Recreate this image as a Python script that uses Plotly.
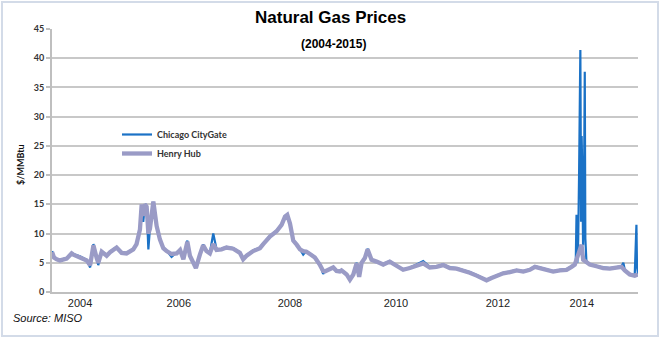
import plotly.graph_objects as go

# ---------------- data ----------------
hh_dates = [
    "2004-01-02", "2004-01-15", "2004-02-03", "2004-02-26", "2004-04-13", "2004-05-18", "2004-05-30",
    "2004-07-15", "2004-09-01", "2004-09-25", "2004-10-18", "2004-11-10", "2004-11-21", "2004-12-15",
    "2005-01-19", "2005-02-12", "2005-03-30", "2005-05-04", "2005-06-08", "2005-07-25", "2005-08-17",
    "2005-09-10", "2005-09-22", "2005-10-03", "2005-10-15", "2005-10-27", "2005-11-08", "2005-11-19",
    "2005-12-13", "2006-01-05", "2006-01-28", "2006-02-21", "2006-03-16", "2006-04-20", "2006-05-26",
    "2006-06-19", "2006-07-12", "2006-08-09", "2006-08-27", "2006-09-20", "2006-10-08", "2006-11-05",
    "2006-11-28", "2006-12-21", "2007-01-14", "2007-02-07", "2007-03-02", "2007-04-06", "2007-05-11",
    "2007-06-27", "2007-08-13", "2007-09-05", "2007-09-29", "2007-11-14", "2008-01-01", "2008-01-24",
    "2008-03-11", "2008-04-27", "2008-06-01", "2008-06-25", "2008-07-11", "2008-07-30", "2008-08-22",
    "2008-09-15", "2008-10-08", "2008-10-31", "2008-11-23", "2008-12-17", "2009-01-21", "2009-02-26",
    "2009-03-20", "2009-04-01", "2009-05-06", "2009-05-30", "2009-06-22", "2009-07-15", "2009-07-27",
    "2009-09-01", "2009-09-24", "2009-10-18", "2009-11-10", "2009-11-28", "2009-12-15", "2010-01-07",
    "2010-01-26", "2010-02-23", "2010-03-30", "2010-05-16", "2010-07-01", "2010-08-17", "2010-10-03",
    "2010-11-19", "2011-01-05", "2011-02-21", "2011-04-08", "2011-05-25", "2011-07-11", "2011-08-27",
    "2011-10-13", "2011-11-28", "2012-01-14", "2012-03-02", "2012-04-17", "2012-05-11", "2012-06-15",
    "2012-07-20", "2012-09-05", "2012-10-22", "2012-12-08", "2013-01-24", "2013-03-11", "2013-04-16",
    "2013-05-21", "2013-07-06", "2013-08-22", "2013-10-08", "2013-11-24", "2013-12-29", "2014-01-21",
    "2014-02-14", "2014-03-09", "2014-03-21", "2014-04-13", "2014-05-06", "2014-06-22", "2014-08-08",
    "2014-09-24", "2014-11-10", "2014-12-15", "2015-01-07", "2015-02-11", "2015-03-18", "2015-04-10",
]
hh_vals = [
    6.8, 5.9, 5.6, 5.4, 5.7, 6.6, 6.4,
    6.0, 5.4, 4.6, 8.0, 5.8, 5.0, 6.9,
    6.2, 6.8, 7.6, 6.7, 6.6, 7.3, 8.2,
    10.7, 15.0, 13.0, 15.0, 14.6, 10.0, 10.8,
    15.5, 11.3, 9.0, 7.5, 7.0, 6.5, 6.6,
    7.2, 5.6, 8.6, 6.2, 5.0, 4.1, 6.4,
    8.0, 7.0, 6.6, 8.2, 7.2, 7.3, 7.6,
    7.4, 6.7, 5.6, 6.2, 7.0, 7.5, 8.2,
    9.5, 10.4, 11.5, 12.9, 13.2, 11.7, 8.8,
    8.1, 7.3, 7.0, 6.9, 6.5, 5.9, 4.6,
    3.6, 3.5, 3.8, 4.2, 3.6, 3.5, 3.7,
    3.0, 2.1, 3.0, 4.9, 2.6, 5.0, 5.8,
    7.3, 5.5, 5.2, 4.7, 5.2, 4.4, 3.8,
    4.1, 4.6, 4.9, 4.2, 4.3, 4.6, 4.1,
    4.0, 3.7, 3.3, 2.8, 2.3, 2.0, 2.4,
    2.8, 3.2, 3.4, 3.7, 3.5, 3.8, 4.3,
    4.1, 3.8, 3.5, 3.7, 3.8, 4.3, 4.7,
    6.4, 8.1, 5.5, 5.0, 4.7, 4.4, 4.1,
    4.0, 4.1, 4.3, 3.7, 3.0, 2.8, 3.0,
]

chi_dates = [
    "2004-01-02", "2004-01-15", "2004-02-03", "2004-02-26", "2004-04-13", "2004-05-18", "2004-05-30",
    "2004-07-15", "2004-09-01", "2004-09-25", "2004-10-18", "2004-11-10", "2004-11-21", "2004-12-15",
    "2005-01-19", "2005-02-12", "2005-03-30", "2005-05-04", "2005-06-08", "2005-07-25", "2005-08-17",
    "2005-09-10", "2005-09-22", "2005-10-03", "2005-10-15", "2005-10-27", "2005-11-08", "2005-11-19",
    "2005-12-13", "2006-01-05", "2006-01-28", "2006-02-21", "2006-03-16", "2006-04-20", "2006-05-26",
    "2006-06-19", "2006-07-12", "2006-08-09", "2006-08-27", "2006-09-20", "2006-10-08", "2006-11-05",
    "2006-11-28", "2006-12-21", "2007-01-14", "2007-02-07", "2007-03-02", "2007-04-06", "2007-05-11",
    "2007-06-27", "2007-08-13", "2007-09-05", "2007-09-29", "2007-11-14", "2008-01-01", "2008-01-24",
    "2008-03-11", "2008-04-27", "2008-06-01", "2008-06-25", "2008-07-11", "2008-07-30", "2008-08-22",
    "2008-09-15", "2008-10-08", "2008-10-31", "2008-11-23", "2008-12-17", "2009-01-21", "2009-02-26",
    "2009-03-20", "2009-04-01", "2009-05-06", "2009-05-30", "2009-06-22", "2009-07-15", "2009-07-27",
    "2009-09-01", "2009-09-24", "2009-10-18", "2009-11-10", "2009-11-28", "2009-12-15", "2010-01-07",
    "2010-01-26", "2010-02-23", "2010-03-30", "2010-05-16", "2010-07-01", "2010-08-17", "2010-10-03",
    "2010-11-19", "2011-01-05", "2011-02-21", "2011-04-08", "2011-05-25", "2011-07-11", "2011-08-27",
    "2011-10-13", "2011-11-28", "2012-01-14", "2012-03-02", "2012-04-17", "2012-05-11", "2012-06-15",
    "2012-07-20", "2012-09-05", "2012-10-22", "2012-12-08", "2013-01-24", "2013-03-11", "2013-04-16",
    "2013-05-21", "2013-07-06", "2013-08-22", "2013-10-08", "2013-11-24", "2013-12-29", "2014-01-21",
    "2014-01-28", "2014-02-02", "2014-02-08", "2014-02-14", "2014-02-20", "2014-03-01", "2014-03-06",
    "2014-03-10", "2014-03-15", "2014-03-20", "2014-03-26", "2014-04-01", "2014-04-05", "2014-04-12",
    "2014-04-20", "2014-05-06", "2014-06-22", "2014-08-08", "2014-09-24", "2014-11-10", "2014-12-15",
    "2014-12-28", "2015-01-07", "2015-02-11", "2015-03-18", "2015-03-30", "2015-04-03", "2015-04-10",
]
chi_vals = [
    7.0, 6.0, 5.7, 5.5, 5.8, 6.7, 6.5,
    6.1, 5.5, 4.2, 8.2, 5.9, 4.6, 7.0,
    6.3, 6.9, 7.7, 6.8, 6.7, 7.4, 8.3,
    10.8, 14.6, 12.0, 15.0, 14.7, 7.3, 10.9,
    15.4, 11.4, 9.1, 7.6, 7.1, 6.0, 6.7,
    7.3, 5.7, 8.8, 6.3, 5.1, 4.2, 6.5,
    8.1, 7.1, 6.7, 10.0, 7.3, 7.4, 7.7,
    7.5, 6.8, 5.7, 6.3, 7.1, 7.6, 8.3,
    9.6, 10.5, 11.6, 13.0, 13.3, 11.8, 8.9,
    8.2, 7.4, 6.4, 7.0, 6.6, 6.0, 4.7,
    3.1, 3.6, 3.9, 4.3, 3.7, 3.6, 3.8,
    3.1, 2.2, 3.1, 5.0, 2.7, 5.1, 5.9,
    7.4, 5.6, 5.3, 4.8, 5.3, 4.5, 3.9,
    4.2, 4.7, 5.3, 4.3, 4.4, 4.7, 4.2,
    4.1, 3.8, 3.4, 2.9, 2.4, 2.1, 2.5,
    2.9, 3.3, 3.5, 3.8, 3.6, 3.9, 4.4,
    4.2, 3.9, 3.6, 3.8, 3.9, 4.4, 4.8,
    5.5, 13.2, 5.0, 9.0, 20.0, 41.4, 12.0,
    26.7, 20.0, 8.0, 15.0, 37.7, 9.2, 5.5,
    5.0, 4.8, 4.5, 4.2, 4.1, 4.2, 4.4,
    5.0, 3.8, 3.1, 2.9, 11.5, 4.3, 3.1,
]

x_tick_dates = ["2004-07-16", "2006-06-10", "2008-07-30", "2010-08-13", "2012-07-30", "2014-03-11"]
x_tick_labels = ["2004", "2006", "2008", "2010", "2012", "2014"]
y_ticks = [0, 5, 10, 15, 20, 25, 30, 35, 40, 45]

# ---------------- layout constants ----------------
W, H = 660, 339
ML, MR, MT, MB = 52, 22, 29, 47
PW, PH = W - ML - MR, H - MT - MB

def px_x(px):
    return (px - ML) / PW

def px_y(py):
    return (H - MB - py) / PH

NARROW = "Liberation Sans Narrow, Arial Narrow, Liberation Sans, Arial"

fig = go.Figure()
fig.add_trace(go.Scatter(
    x=chi_dates, y=chi_vals, name="Chicago CityGate", mode="lines",
    line=dict(color="#1B72C6", width=2.2),
))
fig.add_trace(go.Scatter(
    x=hh_dates, y=hh_vals, name="Henry Hub", mode="lines",
    line=dict(color="#9A9BC6", width=4.3),
))

fig.update_layout(
    width=W, height=H,
    margin=dict(l=ML, r=MR, t=MT, b=MB),
    paper_bgcolor="white", plot_bgcolor="white",
    showlegend=True,
    legend=dict(
        x=px_x(117), y=px_y(120), xanchor="left", yanchor="top",
        bgcolor="rgba(0,0,0,0)", borderwidth=0,
        font=dict(family="Lato, Open Sans, sans-serif", size=9, color="#333333", weight="bold"),
        tracegroupgap=0, itemwidth=30,
    ),
    xaxis=dict(
        type="date", range=["2004-01-01", "2015-04-10"],
        tickmode="array", tickvals=x_tick_dates, ticktext=x_tick_labels,
        showgrid=False, zeroline=False,
        showline=True, linecolor="#BFBFBF", linewidth=2,
        ticks="", tickfont=dict(family=NARROW, size=11, color="#222222"),
    ),
    yaxis=dict(
        range=[0, 45], tickmode="array", tickvals=y_ticks,
        showgrid=True, gridcolor="#C8C8C8", gridwidth=1.5, zeroline=False,
        showline=True, linecolor="#BFBFBF", linewidth=2,
        ticks="outside", ticklen=4, tickcolor="#BFBFBF", tickwidth=1.5,
        tickfont=dict(family="Lato, Open Sans, sans-serif", size=9, color="#333333", weight="bold"),
    ),
    annotations=[
        dict(text="<b>Natural Gas Prices</b>", x=px_x(330), y=px_y(18), xref="paper", yref="paper",
             showarrow=False, xanchor="center", yanchor="middle",
             font=dict(family=NARROW, size=17, color="#000000")),
        dict(text="<b>(2004-2015)</b>", x=px_x(333), y=px_y(44), xref="paper", yref="paper",
             showarrow=False, xanchor="center", yanchor="middle",
             font=dict(family=NARROW, size=12, color="#000000")),
        dict(text="<b>$/MMBtu</b>", x=px_x(20), y=px_y(165), xref="paper", yref="paper",
             showarrow=False, xanchor="center", yanchor="middle", textangle=-90,
             font=dict(family="Lato, Open Sans, sans-serif", size=9, color="#111111")),
        dict(text="<i>Source: MISO</i>", x=px_x(11), y=px_y(318), xref="paper", yref="paper",
             showarrow=False, xanchor="left", yanchor="middle",
             font=dict(family=NARROW, size=11, color="#111111")),
    ],
    shapes=[
        dict(type="rect", xref="paper", yref="paper",
             x0=px_x(2), x1=px_x(658), y0=px_y(336), y1=px_y(2),
             line=dict(color="#D3DBE8", width=2), fillcolor="rgba(0,0,0,0)", layer="below"),
    ],
)

fig.write_html("out.html")
